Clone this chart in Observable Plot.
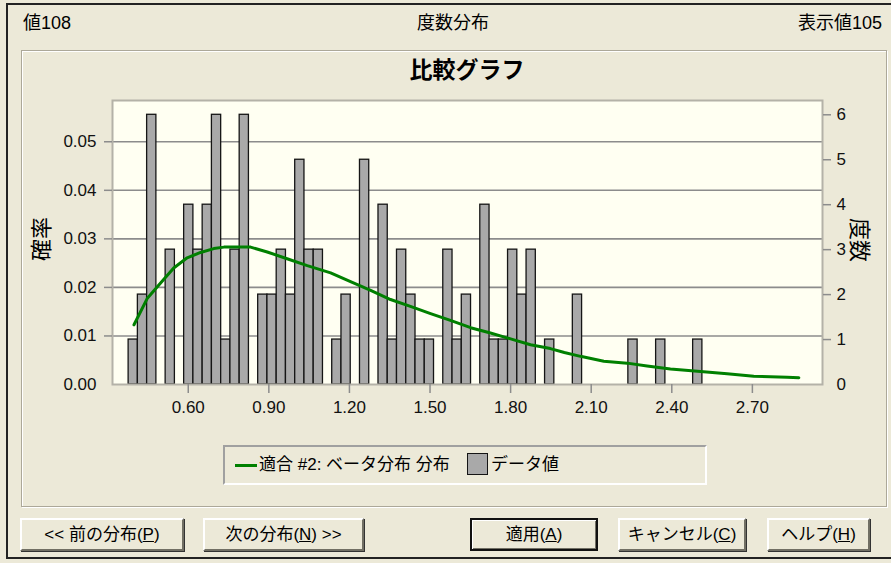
<!DOCTYPE html>
<html>
<head>
<meta charset="utf-8">
<script src="https://cdn.jsdelivr.net/npm/d3@7"></script>
<script src="https://cdn.jsdelivr.net/npm/@observablehq/plot@0.6"></script>
<style>
  html, body { margin: 0; padding: 0; background: #ECE9D8; }
  #win { position: relative; width: 891px; height: 563px; background: #ECE9D8; overflow: hidden;
         font-family: "Liberation Sans", "Noto Sans CJK JP", sans-serif; color: #000; }
  .abs { position: absolute; white-space: nowrap; }
  #outer { left: 6px; top: 3px; width: 900px; height: 556px; border: 2px solid #222; box-sizing: border-box; }
  #panel { left: 21px; top: 50px; width: 866px; height: 457px; border: 1px solid #aca899;
           box-shadow: inset 1px 1px 0 #fff, 1px 1px 0 #fff; box-sizing: border-box; }
  .top { font-size: 18px; top: 12px; line-height: 22px; }
  #title { top: 53px; left: 367px; width: 200px; text-align: center; font-size: 23px; font-weight: bold; line-height: 30px;
           font-family: "Noto Sans CJK JP", sans-serif; }
  #chart { left: 0; top: 80px; }
  .ytitle { font-size: 22px; font-family: "Noto Sans CJK JP", sans-serif; line-height: 24px; }
  #legend { left: 223px; top: 445px; width: 484px; height: 40px; box-sizing: border-box;
            border-top: 2px solid #a0a0a0; border-left: 2px solid #a0a0a0;
            border-right: 2px solid #fff; border-bottom: 2px solid #fff; font-size: 17px; }
  .btn { top: 518px; height: 33px; box-sizing: border-box; background: #ECE9D8;
         border-top: 2px solid #fff; border-left: 2px solid #fff;
         border-right: 2px solid #716f64; border-bottom: 2px solid #716f64;
         box-shadow: 1px 1px 0 #333; font-size: 17px; text-align: center; line-height: 29px; }
  .btn.def { border: 2px solid #111; box-shadow: inset 1px 1px 0 #fff, inset -1px -1px 0 #716f64; }
</style>
</head>
<body>
<div id="win">
  <div id="outer" class="abs"></div>
  <div class="abs top" id="lblLeft" style="left:23px;"></div>
  <div class="abs top" id="lblCenter" style="left:353px;width:200px;text-align:center;"></div>
  <div class="abs top" id="lblRight" style="right:9px;"></div>
  <div id="panel" class="abs"></div>
  <div id="title" class="abs"></div>
  <div id="chart" class="abs"></div>
  <div id="ytitleL" class="abs ytitle" style="left:15px;top:227px;width:48px;text-align:center;transform:rotate(-90deg);"></div>
  <div id="ytitleR" class="abs ytitle" style="left:838px;top:228px;width:48px;text-align:center;transform:rotate(90deg);"></div>
  <div id="legend" class="abs"></div>
  <div id="buttons"></div>
</div>
<script>
// ---- texts ----
const headerLeft = "値108";
const headerCenter = "度数分布";
const headerRight = "表示値105";
const chartTitle = "比較グラフ";
const leftAxisTitle = "確率";
const rightAxisTitle = "度数";
const legendFit = "適合 #2: ベータ分布 分布";
const legendData = "データ値";
const totalValues = 108;

// ---- histogram (bin counts, regular bins) ----
const binStart = 0.378;
const binWidth = 0.03445;
const binCounts = [1, 2, 6, 0, 3, 0, 4, 3, 4, 6, 1, 3, 6, 0, 2, 2, 3, 2, 5, 3,
                   3, 0, 1, 2, 0, 5, 0, 4, 1, 3, 2, 1, 1, 0, 3, 1, 2, 0, 4, 1,
                   1, 3, 2, 3, 0, 1, 0, 0, 2, 0, 0, 0, 0, 0, 1, 0, 0, 1, 0, 0,
                   0, 1];

// ---- fitted beta distribution (probability per bin) ----
const fitX = [0.398, 0.447, 0.497, 0.546, 0.596, 0.646, 0.695, 0.733, 0.795, 0.832,
              0.894, 0.968, 1.043, 1.130, 1.204, 1.279, 1.353, 1.427, 1.502, 1.576,
              1.651, 1.725, 1.800, 1.874, 1.948, 2.000, 2.060, 2.147, 2.234, 2.308,
              2.395, 2.507, 2.606, 2.705, 2.829, 2.873];
const fitP = [0.0123, 0.0177, 0.0209, 0.0240, 0.0261, 0.0272, 0.0280, 0.0283, 0.0283, 0.0283,
              0.0273, 0.0259, 0.0245, 0.0230, 0.0212, 0.0194, 0.0175, 0.0161, 0.0146, 0.0132,
              0.0117, 0.0106, 0.0094, 0.0082, 0.0074, 0.0066, 0.0058, 0.0048, 0.0044, 0.0038,
              0.0032, 0.0027, 0.0022, 0.0017, 0.0015, 0.0014];

// ---- ticks ----
const probTicks = [0, 0.01, 0.02, 0.03, 0.04, 0.05];
const countTicks = [0, 1, 2, 3, 4, 5, 6];
const xTicks = [0.6, 0.9, 1.2, 1.5, 1.8, 2.1, 2.4, 2.7];

// ---- buttons ----
const buttons = [
  {pre: "<< 前の分布(", key: "P", post: ")", left: 20, width: 164, def: false},
  {pre: "次の分布(", key: "N", post: ") >>", left: 203, width: 161, def: false},
  {pre: "適用(", key: "A", post: ")", left: 470, width: 128, def: true},
  {pre: "キャンセル(", key: "C", post: ")", left: 618, width: 128, def: false},
  {pre: "ヘルプ(", key: "H", post: ")", left: 767, width: 103, def: false}
];

document.getElementById("lblLeft").textContent = headerLeft;
document.getElementById("lblCenter").textContent = headerCenter;
document.getElementById("lblRight").textContent = headerRight;
document.getElementById("title").textContent = chartTitle;
document.getElementById("ytitleL").textContent = leftAxisTitle;
document.getElementById("ytitleR").textContent = rightAxisTitle;

const bars = binCounts.map((c, i) => ({x1: binStart + i * binWidth, x2: binStart + (i + 1) * binWidth, c}))
                      .filter(d => d.c > 0);
const fit = fitX.map((x, i) => ({x, p: fitP[i]}));
const gridP = probTicks.filter(d => d > 0);
const countPos = countTicks.map(k => k / totalValues);
const blank = () => "";

const plot = Plot.plot({
  width: 891,
  height: 345,
  marginLeft: 112,
  marginRight: 69,
  marginTop: 20,
  marginBottom: 41,
  x: {domain: [0.318, 2.961]},
  y: {domain: [0, 0.0585]},
  style: {background: "transparent", fontFamily: "Liberation Sans, DejaVu Sans, sans-serif", fontSize: "17px", color: "#111"},
  marks: [
    Plot.frame({fill: "#fffff2"}),
    Plot.ruleY(gridP, {stroke: "#8c8c8c", strokeWidth: 1.6}),
    Plot.rect(bars, {x1: "x1", x2: "x2", y1: 0, y2: d => d.c / totalValues, fill: "#a9a9a9", stroke: "#151515", strokeWidth: 1.3}),
    Plot.line(fit, {x: "x", y: "p", stroke: "#008000", strokeWidth: 3, curve: "linear"}),
    Plot.frame({stroke: "#b4b2a8", strokeWidth: 2}),
    // left axis: tick marks then labels
    Plot.axisY({ticks: gridP, tickSize: 8, tickFormat: blank, label: null, stroke: "#8c8c8c", strokeWidth: 1.5}),
    Plot.axisY({ticks: probTicks, tickSize: 0, tickPadding: 16, tickFormat: d => d.toFixed(2), label: null}),
    // right axis (counts)
    Plot.axisY({anchor: "right", ticks: countPos.filter(d => d > 0), tickSize: 8, tickFormat: blank, label: null, stroke: "#8c8c8c", strokeWidth: 1.5}),
    Plot.axisY({anchor: "right", ticks: countPos, tickSize: 0, tickPadding: 14, tickFormat: d => String(Math.round(d * totalValues)), label: null}),
    // x axis
    Plot.axisX({ticks: xTicks, tickSize: 9, tickFormat: blank, label: null, stroke: "#8c8c8c", strokeWidth: 1.5}),
    Plot.axisX({ticks: xTicks, tickSize: 0, tickPadding: 16, tickFormat: d => d.toFixed(2), label: null})
  ]
});
document.getElementById("chart").appendChild(plot);

// legend
const legend = document.getElementById("legend");
legend.innerHTML =
  `<div class="abs" style="left:10px;top:17px;width:22px;height:3px;background:#008000;"></div>` +
  `<div class="abs" style="left:34px;top:6px;line-height:24px;"></div>` +
  `<div class="abs" style="left:242px;top:6px;width:21px;height:22px;box-sizing:border-box;background:#a9a9a9;border:1.5px solid #151515;"></div>` +
  `<div class="abs" style="left:266px;top:6px;line-height:24px;"></div>`;
legend.children[1].textContent = legendFit;
legend.children[3].textContent = legendData;

// buttons
const bwrap = document.getElementById("buttons");
buttons.forEach(b => {
  const el = document.createElement("div");
  el.className = "abs btn" + (b.def ? " def" : "");
  el.style.left = b.left + "px";
  el.style.width = b.width + "px";
  const s1 = document.createTextNode(b.pre);
  const u = document.createElement("u"); u.textContent = b.key;
  const s2 = document.createTextNode(b.post);
  el.append(s1, u, s2);
  bwrap.appendChild(el);
});
</script>
</body>
</html>
